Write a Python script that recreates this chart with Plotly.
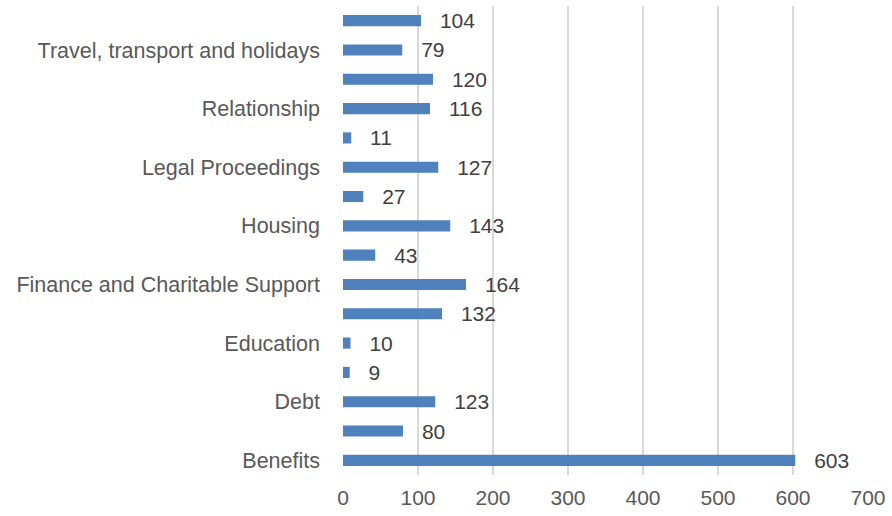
import plotly.graph_objects as go

categories = ["Benefits", "Consumer", "Debt", "Disability", "Education", "Employment",
              "Finance and Charitable Support", "Health", "Housing", "Immigration",
              "Legal Proceedings", "Other", "Relationship", "Tax",
              "Travel, transport and holidays", "Utilities"]
values = [603, 80, 123, 9, 10, 132, 164, 43, 143, 27, 127, 11, 116, 120, 79, 104]
shown_labels = ["Benefits", "Debt", "Education", "Finance and Charitable Support",
                "Housing", "Legal Proceedings", "Relationship",
                "Travel, transport and holidays"]
x_ticks = [0, 100, 200, 300, 400, 500, 600, 700]

FONT = "Liberation Sans, Arial, sans-serif"
fig = go.Figure(go.Bar(
    y=categories, x=values, orientation="h",
    marker=dict(color="#4f81bd", line=dict(width=0)),
    width=0.38,
    text=["  \u2009" + str(v) for v in values], textposition="outside",
    constraintext="none",
    textfont=dict(family=FONT, size=21, color="#404040"),
    cliponaxis=False,
))
fig.update_layout(
    width=892, height=516,
    margin=dict(l=343, r=20, t=6, b=41),
    plot_bgcolor="white", paper_bgcolor="white",
    showlegend=False,
    font=dict(family=FONT, size=21, color="#595959"),
)
fig.update_xaxes(range=[0, 700], tickvals=x_ticks, showgrid=True, gridcolor="#d9d9d9",
                 gridwidth=1.5, zeroline=False, showline=False, ticks="",
                 ticklabelstandoff=8,
                 tickfont=dict(size=21, color="#595959"))
fig.update_yaxes(categoryorder="array", categoryarray=categories,
                 tickvals=shown_labels, ticktext=shown_labels,
                 range=[-0.5, len(categories) - 0.5],
                 showgrid=False, zeroline=False, showline=False, ticks="",
                 ticklabelstandoff=22, tickfont=dict(size=21.5, color="#595959"))
fig.write_html("out.html")
